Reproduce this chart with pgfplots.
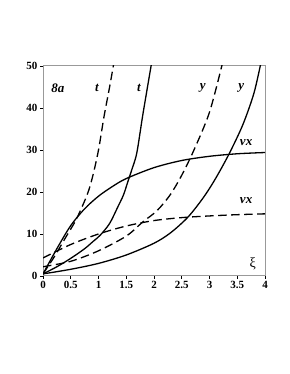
\documentclass[border=0pt]{standalone}
\usepackage{fontspec}
\setmainfont{Liberation Serif}
\usepackage{pgfplots}
\pgfplotsset{compat=1.18}
\pgfplotsset{curve/.style={black, no marks, line width=1.3pt, smooth, solid}, dcurve/.style={curve, dash pattern=on 8.5pt off 4.5pt}}
\begin{document}
\begin{tikzpicture}
\path[use as bounding box] (0,0) rectangle (289pt,374pt);
\begin{axis}[
  at={(43pt,98pt)}, anchor=origin,
  scale only axis, width=222pt, height=210pt,
  xmin=0, xmax=4, ymin=0, ymax=50,
  xtick={0,0.5,1,1.5,2,2.5,3,3.5,4},
  xticklabels={0,0.5,1,1.5,2,2.5,3,3.5,4},
  ytick={0,10,20,30,40,50},
  tick align=outside, tick pos=left,
  major tick length=3pt,
  tick style={black, line width=0.8pt},
  axis line style={gray!80, line width=1pt},
  ticklabel style={font=\fontsize{11}{12}\selectfont\bfseries},
  xticklabel style={yshift=1pt},
  yticklabel style={xshift=1pt},
  /pgf/number format/assume math mode=true,
  clip=true,
]
% dashed t
\addplot[dcurve] coordinates {(0,0.5)(0.2,4.5)(0.4,9)(0.6,13.5)(0.8,19.5)(0.9,24)(1.0,30)(1.1,38)(1.2,45)(1.28,51)};
% solid t
\addplot[curve] coordinates {(0,0.5)(0.25,2.2)(0.5,4.2)(0.75,6.5)(0.9,8.2)(1.03,9.7)(1.2,12.5)(1.35,16.5)(1.45,19.3)(1.53,22.5)(1.6,25.3)(1.69,29.3)(1.8,38.5)(1.96,51)};
% dashed y
\addplot[dcurve] coordinates {(0,2.2)(0.5,3.5)(1,6)(1.5,9.5)(1.8,12.9)(2.05,15.5)(2.29,19.3)(2.5,24)(2.72,30)(3.0,39)(3.24,51)};
% solid y
\addplot[curve] coordinates {(0,0.5)(0.5,1.6)(1,3)(1.5,5)(2,7.8)(2.3,10.3)(2.61,14)(2.88,18.5)(3.1,23)(3.35,29)(3.6,36)(3.8,43.5)(3.93,51)};
% dashed vx
\addplot[dcurve] coordinates {(0,4.3)(0.5,7.5)(1,10)(1.5,11.9)(2,13.2)(2.5,13.9)(3,14.3)(3.5,14.6)(4,14.8)};
% solid vx
\addplot[curve] coordinates {(0,0.5)(0.25,6.5)(0.5,12)(0.75,16)(1,19)(1.25,21.3)(1.5,23.2)(2,25.8)(2.5,27.5)(3,28.5)(3.5,29.1)(4,29.4)};
\node[font=\fontsize{13}{14}\selectfont\bfseries\itshape] at (axis cs:0.27,44.8) {8a};
\node[font=\fontsize{13}{14}\selectfont\bfseries\itshape] at (axis cs:0.97,44.8) {t};
\node[font=\fontsize{13}{14}\selectfont\bfseries\itshape] at (axis cs:1.73,44.8) {t};
\node[font=\fontsize{13}{14}\selectfont\bfseries\itshape] at (axis cs:2.88,44.8) {y};
\node[font=\fontsize{13}{14}\selectfont\bfseries\itshape] at (axis cs:3.57,44.8) {y};
\node[font=\fontsize{13}{14}\selectfont\bfseries\itshape] at (axis cs:3.66,31.7) {vx};
\node[font=\fontsize{13}{14}\selectfont\bfseries\itshape] at (axis cs:3.66,18) {vx};
\node[font=\fontsize{14}{15}\selectfont] at (axis cs:3.78,2.8) {ξ};
\end{axis}
\end{tikzpicture}
\end{document}
